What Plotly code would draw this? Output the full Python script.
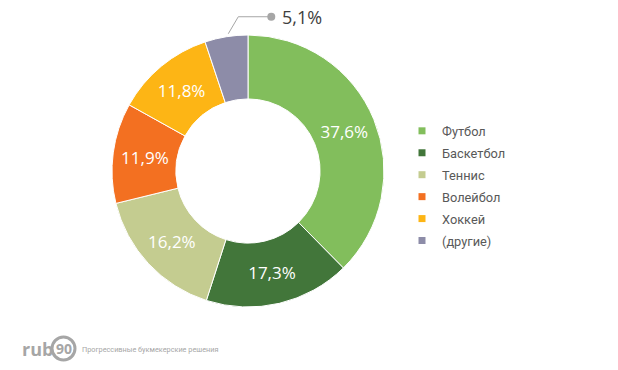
import math
import plotly.graph_objects as go

labels = ["Футбол", "Баскетбол", "Теннис", "Волейбол", "Хоккей", "(другие)"]
values = [37.6, 17.3, 16.2, 11.9, 11.8, 5.1]
colors = ["#82BE5C", "#42763A", "#C4CC90", "#F37021", "#FDB515", "#8D8CA8"]
text_pos = ["inside", "inside", "inside", "inside", "inside", "none"]

W, H = 618, 370
cx, cy, R = 248, 171, 136
dom_x = [(cx - R) / W, (cx + R) / W]
dom_y = [(H - cy - R) / H, (H - cy + R) / H]

fmt = lambda v: f"{v:.1f}".replace(".", ",") + "%"

fig = go.Figure(go.Pie(
    labels=labels, values=values, sort=False, direction="clockwise", rotation=0,
    hole=0.53, domain=dict(x=dom_x, y=dom_y),
    marker=dict(colors=colors, line=dict(color="white", width=1)),
    text=[fmt(v) for v in values], texttemplate="%{text}", textinfo="text",
    textposition=text_pos, insidetextorientation="horizontal",
    insidetextfont=dict(color="white", size=17, family="Open Sans"),
    hoverinfo="label+percent", showlegend=False,
))

# legend entries (one per category, small square markers)
for lab, col in zip(labels, colors):
    fig.add_trace(go.Scatter(
        x=[None], y=[None], mode="markers", name=lab, legendgroup=lab,
        marker=dict(symbol="square", size=7, color=col), showlegend=True,
        hoverinfo="skip",
    ))

px = lambda x: x / W
py = lambda y: (H - y) / H

# leader label for the smallest slice
total = sum(values)
start = sum(values[:-1])
mid_frac = (start + values[-1] / 2) / total
ang = 2 * math.pi * mid_frac
ex, ey = cx + R * math.sin(ang), cy - R * math.cos(ang)
p0 = (ex + 2, ey - 3)
p1 = (ex + 12, ey - 20)
p2 = (p1[0] + 33, p1[1])
fig.add_shape(type="path", xref="paper", yref="paper",
              path=f"M{px(p0[0])},{py(p0[1])} L{px(p1[0])},{py(p1[1])} L{px(p2[0])},{py(p2[1])}",
              line=dict(color="#A6A6A6", width=1))
fig.add_shape(type="circle", xref="paper", yref="paper",
              x0=px(p2[0] - 4), x1=px(p2[0] + 4), y0=py(p2[1] + 4), y1=py(p2[1] - 4),
              fillcolor="#A6A6A6", line=dict(width=0))
fig.add_annotation(x=px(p2[0] + 9), y=py(p2[1]), xref="paper", yref="paper",
                   xanchor="left", yanchor="middle", showarrow=False,
                   text=fmt(values[-1]), font=dict(size=18, color="#404040", family="Open Sans"))

# watermark
fig.add_annotation(x=px(20), y=py(349), xref="paper", yref="paper", xanchor="left", yanchor="middle",
                   showarrow=False, text="<b>rub</b>", font=dict(size=18, color="#A6A6A6", family="Open Sans"))
fig.add_shape(type="circle", xref="paper", yref="paper",
              x0=px(52), x1=px(75), y0=py(360), y1=py(337),
              line=dict(color="#A6A6A6", width=3))
fig.add_annotation(x=px(63.5), y=py(348.5), xref="paper", yref="paper", xanchor="center", yanchor="middle",
                   showarrow=False, text="<b>90</b>", font=dict(size=14, color="#A6A6A6", family="Open Sans"))
fig.add_annotation(x=px(80), y=py(349), xref="paper", yref="paper", xanchor="left", yanchor="middle",
                   showarrow=False, text="Прогрессивные букмекерские решения",
                   font=dict(size=7.3, color="#A6A6A6", family="Roboto"))

fig.update_layout(
    width=W, height=H, margin=dict(l=0, r=0, t=0, b=0),
    paper_bgcolor="white", plot_bgcolor="white",
    separators=", ",
    showlegend=True,
    xaxis=dict(visible=False), yaxis=dict(visible=False),
    legend=dict(x=px(402), y=py(186), xanchor="left", yanchor="middle",
                font=dict(size=12.8, color="#595959", family="Roboto"),
                itemwidth=30, tracegroupgap=2.3, bgcolor="rgba(0,0,0,0)",
                traceorder="grouped"),
)
fig.write_html("out.html", config={"displayModeBar": False},
               post_script="document.body.style.margin='0';")
